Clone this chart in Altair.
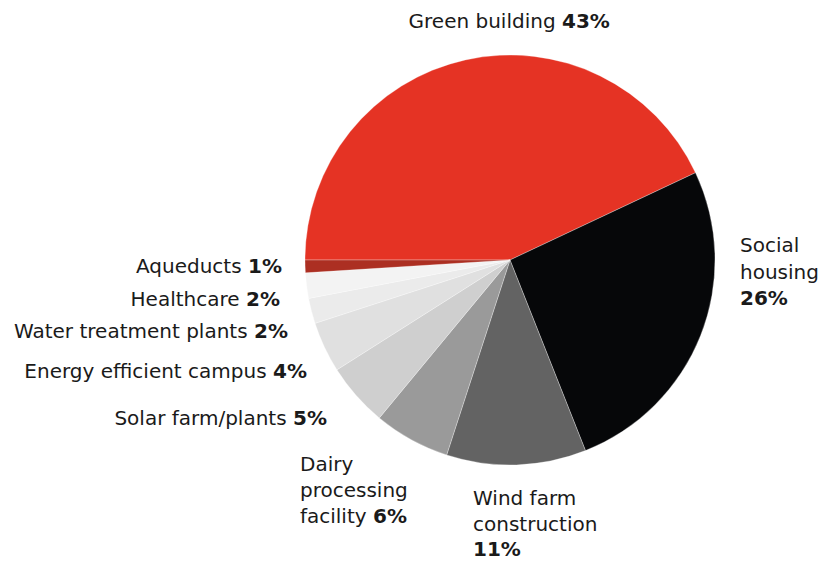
import altair as alt
import pandas as pd

# ---- data ----
categories = ["Green building", "Social housing", "Wind farm construction",
              "Dairy processing facility", "Solar farm/plants",
              "Energy efficient campus", "Water treatment plants",
              "Healthcare", "Aqueducts"]
shares = [43, 26, 11, 6, 5, 4, 2, 2, 1]
colors = ["#E53324", "#060709", "#636363", "#9A9A9A", "#CFCFCF",
          "#E0E0E0", "#EBEBEB", "#F3F3F3", "#AC2F22"]

# label text lines: (category, normal text, bold text)
label_lines = [
    ("Green building", "Green building", "43%"),
    ("Social housing", "Social", ""),
    ("Social housing", "housing", ""),
    ("Social housing", "", "26%"),
    ("Wind farm construction", "Wind farm", ""),
    ("Wind farm construction", "construction", ""),
    ("Wind farm construction", "", "11%"),
    ("Dairy processing facility", "Dairy", ""),
    ("Dairy processing facility", "processing", ""),
    ("Dairy processing facility", "facility", "6%"),
    ("Solar farm/plants", "Solar farm/plants", "5%"),
    ("Energy efficient campus", "Energy efficient campus", "4%"),
    ("Water treatment plants", "Water treatment plants", "2%"),
    ("Healthcare", "Healthcare", "2%"),
    ("Aqueducts", "Aqueducts", "1%"),
]

# ---- layout (label anchors in px: x where bold part starts / line start, baseline y) ----
label_anchor = [
    (562, 28), (740, 252), (740, 279), (740, 305),
    (473, 505), (473, 531), (473, 556),
    (300, 471), (300, 497), (373, 523),
    (293, 425), (273, 378), (254, 338), (246, 306), (248, 273),
]
MARGIN = 8
CX, CY, R = 510, 260, 205
GAP = 6.4
FONT = "DejaVu Sans"
FS = 20

pie_df = pd.DataFrame({"category": categories, "share": shares,
                       "order": list(range(len(categories)))})

rows = []
for (cat, normal, bold), (ax, ay) in zip(label_lines, label_anchor):
    if bold and normal:
        rows.append({"t": normal, "x": ax - MARGIN - GAP, "y": ay - MARGIN, "w": "normal", "a": "right"})
        rows.append({"t": bold, "x": ax - MARGIN, "y": ay - MARGIN, "w": "bold", "a": "left"})
    elif bold:
        rows.append({"t": bold, "x": ax - MARGIN, "y": ay - MARGIN, "w": "bold", "a": "left"})
    else:
        rows.append({"t": normal, "x": ax - MARGIN, "y": ay - MARGIN, "w": "normal", "a": "left"})
lab_df = pd.DataFrame(rows)

PI = 3.141592653589793
start = 3 * PI / 2
pie = alt.Chart(pie_df).mark_arc(radius=R, stroke="white", strokeWidth=0.3).encode(
    theta=alt.Theta("share:Q", stack=True,
                    scale=alt.Scale(range=[start, start + 2 * PI])),
    order=alt.Order("order:Q"),
    color=alt.Color("category:N", scale=alt.Scale(domain=categories, range=colors), legend=None),
    x=alt.value(CX - MARGIN),
    y=alt.value(CY - MARGIN),
)

def text_layer(weight, align):
    sub = lab_df[(lab_df.w == weight) & (lab_df.a == align)]
    return alt.Chart(sub).mark_text(
        font=FONT, fontSize=FS, fontWeight=weight, align=align,
        baseline="alphabetic", color="#1a1a1a"
    ).encode(
        x=alt.X("x:Q", scale=None, axis=None),
        y=alt.Y("y:Q", scale=None, axis=None),
        text="t:N",
    )

layers = [pie]
for w in ["normal", "bold"]:
    for a in ["left", "right"]:
        if len(lab_df[(lab_df.w == w) & (lab_df.a == a)]):
            layers.append(text_layer(w, a))

chart = alt.layer(*layers).properties(
    width=819, height=549, padding=0, background="white"
).configure_view(stroke=None)

chart.save("out.html", embed_options={"renderer": "svg", "actions": False})
